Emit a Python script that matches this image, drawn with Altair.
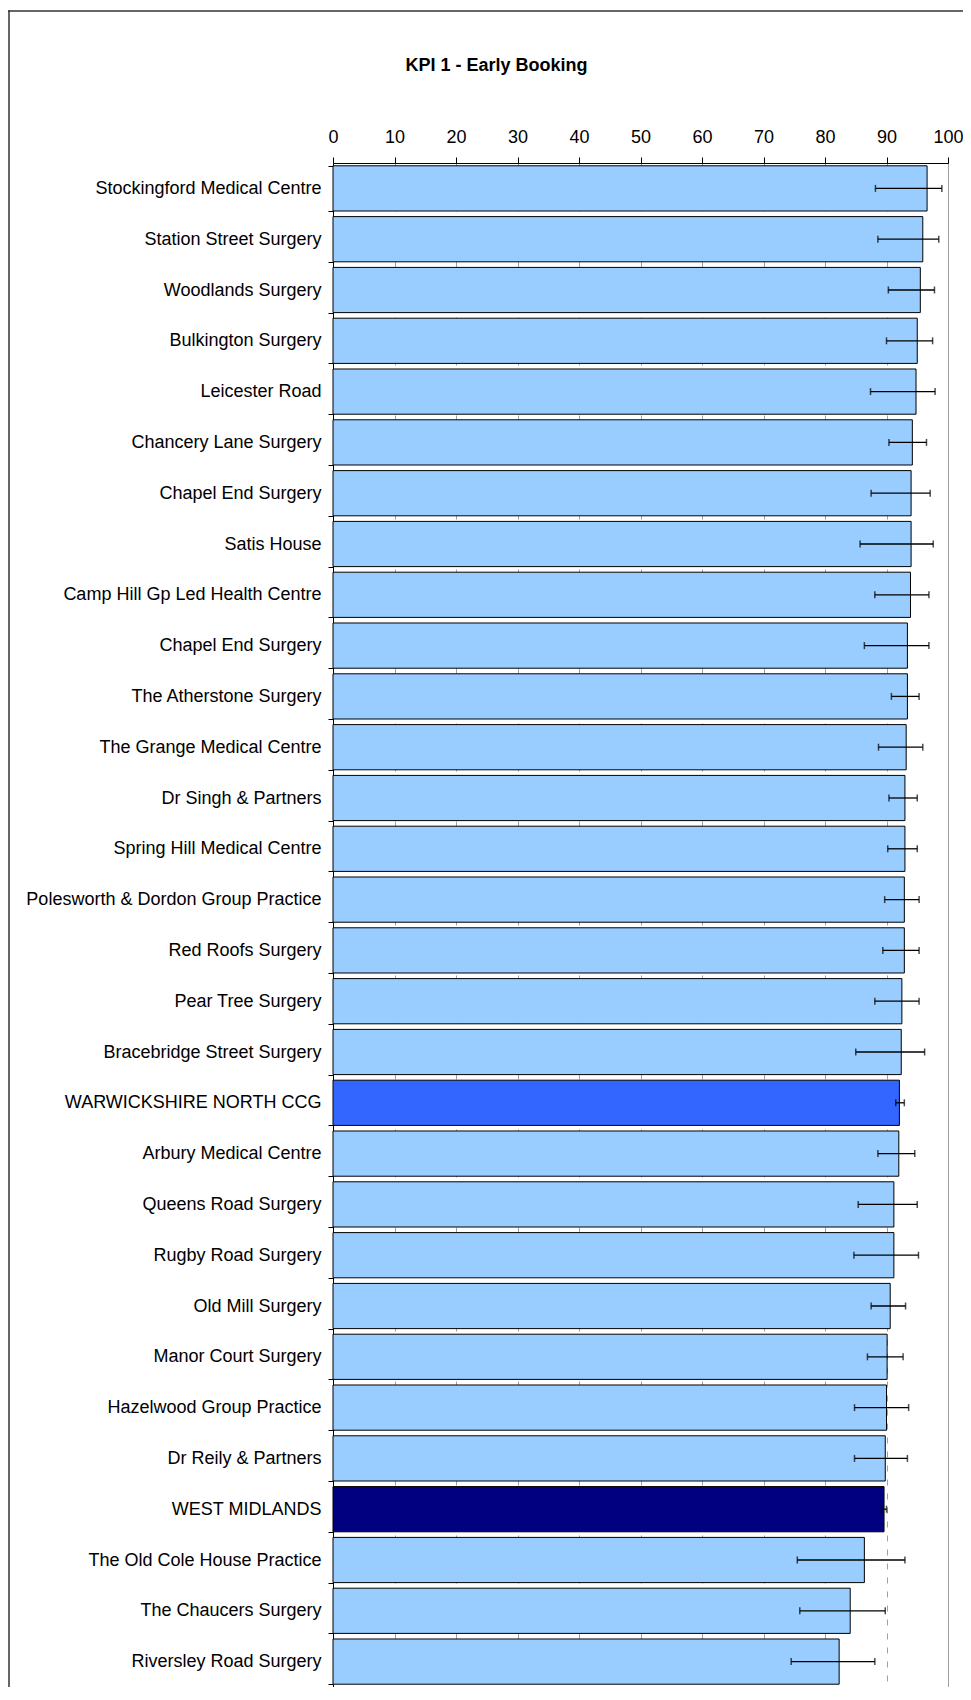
import altair as alt
import pandas as pd

practices = [
    "Stockingford Medical Centre",
    "Station Street Surgery",
    "Woodlands Surgery",
    "Bulkington Surgery",
    "Leicester Road",
    "Chancery Lane Surgery",
    "Chapel End Surgery",
    "Satis House",
    "Camp Hill Gp Led Health Centre",
    "Chapel End Surgery",
    "The Atherstone Surgery",
    "The Grange Medical Centre",
    "Dr Singh & Partners",
    "Spring Hill Medical Centre",
    "Polesworth & Dordon Group Practice",
    "Red Roofs Surgery",
    "Pear Tree Surgery",
    "Bracebridge Street Surgery",
    "WARWICKSHIRE NORTH CCG",
    "Arbury Medical Centre",
    "Queens Road Surgery",
    "Rugby Road Surgery",
    "Old Mill Surgery",
    "Manor Court Surgery",
    "Hazelwood Group Practice",
    "Dr Reily & Partners",
    "WEST MIDLANDS",
    "The Old Cole House Practice",
    "The Chaucers Surgery",
    "Riversley Road Surgery",
]
values = [96.6, 95.9, 95.5, 95.0, 94.8, 94.2, 94.0, 94.0, 93.9, 93.4,
          93.4, 93.2, 93.0, 93.0, 92.9, 92.9, 92.5, 92.4, 92.1, 92.0,
          91.2, 91.2, 90.6, 90.1, 90.0, 89.8, 89.6, 86.4, 84.1, 82.3]
lower = [88.2, 88.6, 90.3, 90.0, 87.4, 90.4, 87.5, 85.7, 88.1, 86.4,
         90.8, 88.7, 90.4, 90.2, 89.7, 89.4, 88.1, 85.0, 91.5, 88.6,
         85.4, 84.7, 87.5, 86.9, 84.8, 84.8, 89.2, 75.5, 75.9, 74.5]
upper = [99.0, 98.5, 97.8, 97.5, 97.9, 96.5, 97.1, 97.6, 96.9, 96.9,
         95.3, 95.9, 95.0, 95.0, 95.3, 95.3, 95.3, 96.2, 92.9, 94.6,
         95.0, 95.2, 93.1, 92.7, 93.6, 93.4, 90.0, 93.0, 89.8, 88.1]
groups = ["practice"] * 30
groups[18] = "ccg"
groups[26] = "region"

group_domain = ["practice", "ccg", "region"]
group_colors = ["#99CCFF", "#3366FF", "#000080"]
x_ticks = list(range(0, 101, 10))

keys = [f"{i:02d}|{p}" for i, p in enumerate(practices)]
df = pd.DataFrame({
    "key": keys, "name": practices, "value": values,
    "lower": lower, "upper": upper, "group": groups,
})

FONT = "Liberation Sans"

y_enc = alt.Y(
    "key:N", sort=keys, title=None,
    scale=alt.Scale(paddingInner=0.11, paddingOuter=0.055),
    axis=alt.Axis(
        labelExpr="split(datum.label, '|')[1]",
        tickBand="extent", tickSize=5, labelPadding=7,
        labelFontSize=18, labelFont=FONT, labelColor="black",
        labelLimit=400, domainColor="black", tickColor="black",
        grid=False,
    ),
)
x_enc = alt.X(
    "value:Q", title=None,
    scale=alt.Scale(domain=[0, 100], nice=False),
    axis=alt.Axis(
        orient="top", values=x_ticks, tickSize=6, labelPadding=11,
        labelFlush=False,
        labelFontSize=18, labelFont=FONT, labelColor="black",
        domainColor="black", tickColor="black",
        grid=True, gridColor="#A0A0A0", gridDash=[6, 8], gridWidth=1,
    ),
)

bars = alt.Chart(df).mark_bar(stroke="black", strokeWidth=1).encode(
    x=x_enc, y=y_enc,
    color=alt.Color("group:N", scale=alt.Scale(domain=group_domain, range=group_colors), legend=None),
)
rules = alt.Chart(df).mark_rule(color="black", strokeWidth=1.3).encode(
    x="lower:Q", x2="upper:Q", y=alt.Y("key:N", sort=keys),
)
caps_lo = alt.Chart(df).mark_tick(color="black", thickness=1.5, size=7).encode(
    x="lower:Q", y=alt.Y("key:N", sort=keys),
)
caps_hi = alt.Chart(df).mark_tick(color="black", thickness=1.5, size=7).encode(
    x="upper:Q", y=alt.Y("key:N", sort=keys),
)
frame_df = pd.DataFrame({"f": [0]})
frame_top = alt.Chart(frame_df).mark_rule(color="#333333", strokeWidth=1.5).encode(
    x=alt.value(-325), x2=alt.value(630), y=alt.value(-152),
)
frame_left = alt.Chart(frame_df).mark_rule(color="#333333", strokeWidth=1.5).encode(
    x=alt.value(-324), y=alt.value(-152.5), y2=alt.value(1524),
)

chart = alt.layer(frame_top, frame_left, bars, rules, caps_lo, caps_hi).properties(
    width=615, height=1524,
    autosize=alt.AutoSizeParams(type="none"),
    padding={"left": 325, "top": 155, "right": 15, "bottom": 0},
    title=alt.TitleParams(
        text="KPI 1 - Early Booking", font=FONT, fontSize=18, fontWeight="bold",
        color="black", anchor="middle", frame="group", dx=-144, offset=-65,
    ),
).configure_view(stroke="#A0A0A0", strokeWidth=1)

chart.save("out.html", embed_options={"renderer": "svg", "actions": False})
